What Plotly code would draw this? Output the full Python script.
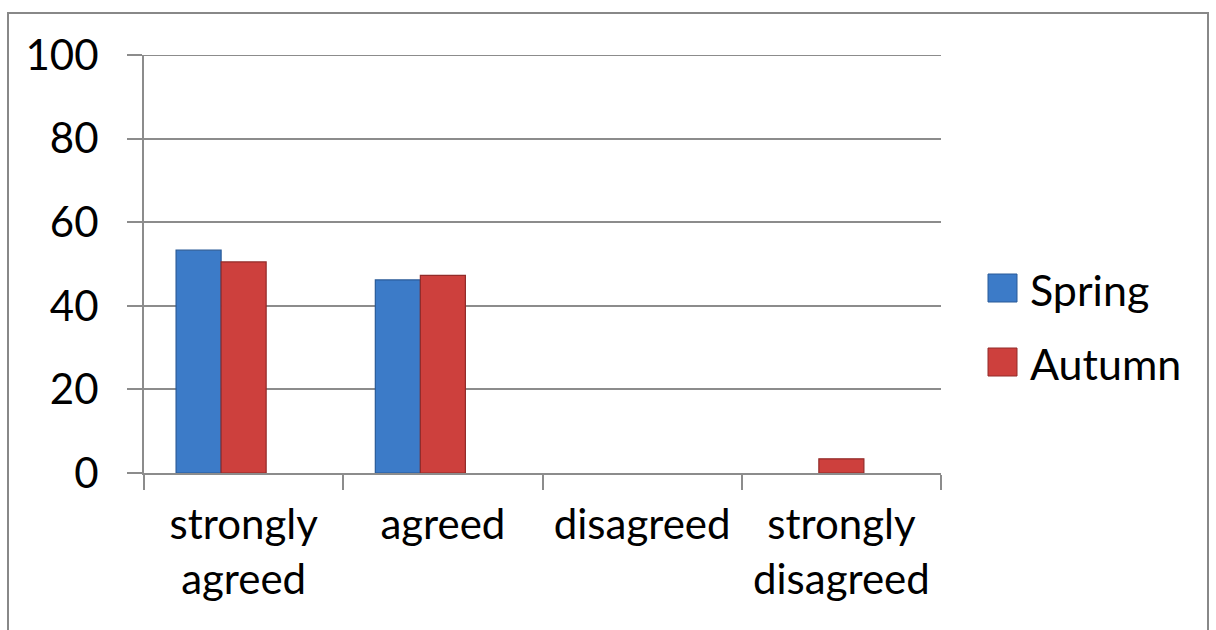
import plotly.graph_objects as go

# Survey responses (% of students)
categories = ["strongly<br>agreed", "agreed", "disagreed", "strongly<br>disagreed"]
spring = [53.3, 46.2, 0, 0]
autumn = [50.5, 47.3, 0, 3.4]
y_ticks = [0, 20, 40, 60, 80, 100]

W, H = 1216, 630
ML, MR, MT, MB = 144, 275, 55, 157
PW, PH = W - ML - MR, H - MT - MB


def px_x(p):
    return (p - ML) / PW


def px_y(p):
    return (H - MB - p) / PH


FONT = "Lato, Carlito, Calibri, sans-serif"
GRID = "#8c8c8c"
BLUE, BLUE_EDGE = "#3c7bc8", "#285a98"
RED, RED_EDGE = "#cd403d", "#922b29"


def edge_widths(values):
    # no outline on empty bars, so they do not leave a stroke on the baseline
    return [1.2 if v > 0 else 0 for v in values]


fig = go.Figure()
fig.add_trace(go.Bar(x=categories, y=spring, name="Spring", width=0.226, offset=-0.339,
                     marker=dict(color=BLUE, line=dict(color=BLUE_EDGE, width=edge_widths(spring))),
                     showlegend=False))
fig.add_trace(go.Bar(x=categories, y=autumn, name="Autumn", width=0.226, offset=-0.113,
                     marker=dict(color=RED, line=dict(color=RED_EDGE, width=edge_widths(autumn))),
                     showlegend=False))

shapes = [
    # outer chart frame
    dict(type="rect", xref="paper", yref="paper",
         x0=px_x(8), x1=px_x(1208), y0=px_y(660), y1=px_y(13),
         line=dict(color="#888888", width=2), fillcolor="rgba(0,0,0,0)", layer="below"),
    # gridline at the top of the value range (plotly skips the one on the edge)
    dict(type="line", xref="paper", yref="y", x0=0, x1=1, y0=y_ticks[-1], y1=y_ticks[-1],
         line=dict(color=GRID, width=2), layer="below"),
]
annotations = []
legend_items = [("Spring", BLUE, BLUE_EDGE, 274), ("Autumn", RED, RED_EDGE, 348)]
for name, col, edge, top in legend_items:
    shapes.append(dict(type="rect", xref="paper", yref="paper",
                       x0=px_x(988), x1=px_x(1017), y0=px_y(top + 28), y1=px_y(top),
                       fillcolor=col, line=dict(color=edge, width=1)))
    annotations.append(dict(text=name, xref="paper", yref="paper", x=px_x(1028),
                            y=px_y(top + 15), xanchor="left", yanchor="middle",
                            showarrow=False, font=dict(family=FONT, size=43, color="black")))

fig.update_layout(
    width=W, height=H,
    margin=dict(l=ML, r=MR, t=MT, b=MB, pad=0),
    paper_bgcolor="white", plot_bgcolor="white",
    barmode="overlay",
    font=dict(family=FONT, size=42, color="black"),
    shapes=shapes, annotations=annotations,
    showlegend=False,
)
fig.update_yaxes(range=[0, 100], tickvals=y_ticks, showgrid=True, gridcolor=GRID, gridwidth=2,
                 showline=True, linecolor=GRID, linewidth=2, ticks="outside", ticklen=15,
                 tickcolor=GRID, tickwidth=2, ticklabelstandoff=20, zeroline=False,
                 tickfont=dict(family=FONT, size=42, color="black"))
fig.update_xaxes(showline=True, linecolor=GRID, linewidth=2, ticks="outside", ticklen=15,
                 tickcolor=GRID, tickwidth=2, tickson="boundaries", showgrid=False,
                 ticklabelstandoff=14, tickangle=0,
                 tickfont=dict(family=FONT, size=42, color="black"))

fig.write_html("out.html")
